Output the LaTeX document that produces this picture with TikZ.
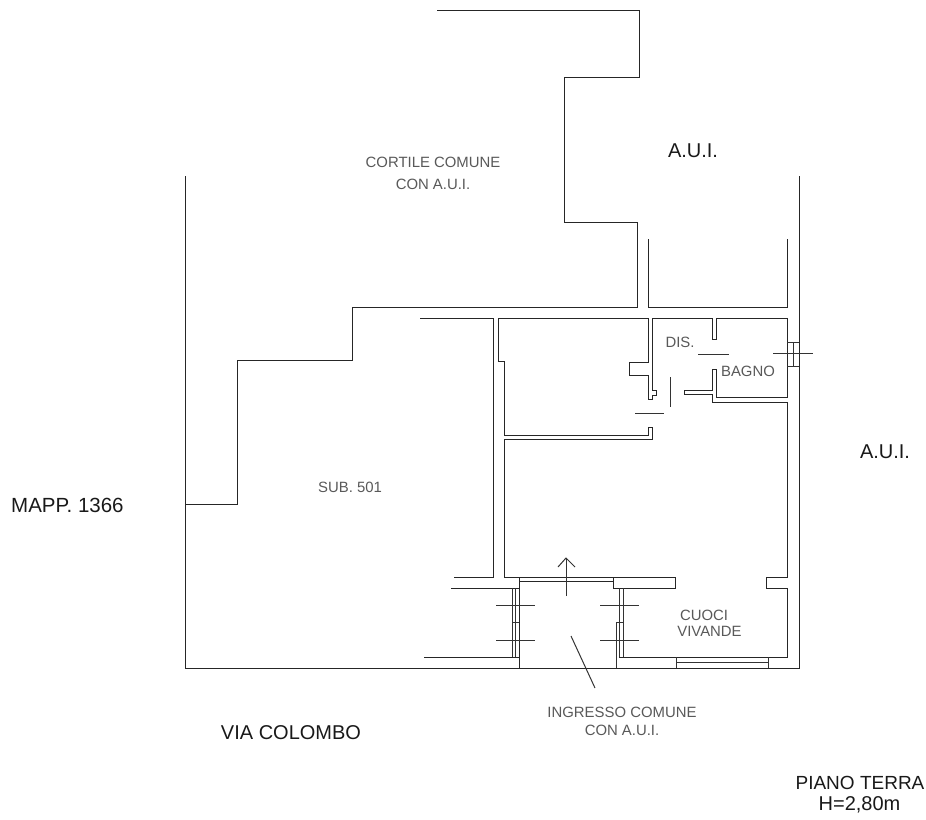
\documentclass[tikz,border=0pt]{standalone}
\usepackage{fontspec}
\setmainfont{Liberation Sans}
\tikzset{
  wall/.style={draw=black!85,line width=1pt,line join=miter},
  thin wall/.style={draw=black!80,line width=1pt},
  big/.style={inner sep=0pt,text=black!90,font=\fontsize{20}{20}\selectfont,align=center},
  small/.style={inner sep=0pt,text=black!65,font=\fontsize{14.9}{14.9}\selectfont,align=center}
}
\begin{document}
\begin{tikzpicture}[x=1pt,y=-1pt]
\useasboundingbox (0,0) rectangle (926,819);
% outer boundaries
\draw[wall] (437,10) -- (639,10) -- (639,77) -- (564,77) -- (564,222) -- (637,222) -- (637,307) -- (352,307) -- (352,360) -- (237,360) -- (237,504) -- (185,504);
\draw[wall] (185,176) -- (185,668) -- (799,668) -- (799,176);
\draw[wall] (648,239) -- (648,307) -- (787,307) -- (787,239);
% sub 501 wall
\draw[wall] (420,318) -- (493,318) -- (493,577) -- (454,577);
\draw[wall] (451,588) -- (519,588);
\draw[wall] (424,657) -- (519,657);
% central room
\draw[wall] (498,318) -- (648,318) -- (648,362) -- (629,362) -- (629,375) -- (648,375) -- (648,399) -- (652,399) -- (652,395) -- (656,395) -- (656,390) -- (652,390) -- (652,318);
\draw[wall] (498,318) -- (498,361) -- (504,361) -- (504,435) -- (648,435) -- (648,427) -- (652,427) -- (652,439) -- (504,439) -- (504,577) -- (675,577) -- (675,588) -- (613,588) -- (613,577);
% bathroom
\draw[wall] (652,318) -- (712,318) -- (712,339) -- (716,339) -- (716,318) -- (787,318) -- (787,397) -- (716,397) -- (716,369) -- (712,369) -- (712,390) -- (684,390) -- (684,394) -- (712,394) -- (712,402) -- (787,402) -- (787,577) -- (766,577) -- (766,588) -- (787,588) -- (787,657) -- (619,657);
% entrance
\draw[wall] (519,577) -- (519,668);
\draw[wall] (519,581) -- (613,581);
\draw[thin wall] (512,588) -- (512,657);
\draw[thin wall] (515,588) -- (515,657);
\draw[thin wall] (512,622) -- (519,622);
\draw[thin wall] (619,588) -- (619,657);
\draw[thin wall] (623,588) -- (623,657);
\draw[thin wall] (616,668) -- (616,622) -- (623,622);
% crossing ticks
\draw[thin wall] (496,605) -- (535,605);
\draw[thin wall] (496,640) -- (535,640);
\draw[thin wall] (600,605) -- (639,605);
\draw[thin wall] (600,640) -- (639,640);
% bottom window
\draw[thin wall] (676,657) -- (676,668);
\draw[thin wall] (768,657) -- (768,668);
\draw[thin wall] (676,662) -- (768,662);
% bath window
\draw[thin wall] (787,342) -- (799,342);
\draw[thin wall] (787,366) -- (799,366);
\draw[thin wall] (793,342) -- (793,366);
\draw[thin wall] (773,353) -- (813,353);
% door leaves
\draw[thin wall] (698,354) -- (729,354);
\draw[thin wall] (670,377) -- (670,407);
\draw[thin wall] (635,413) -- (664,413);
% arrow and leader
\draw[thin wall] (566,596) -- (566,558);
\draw[thin wall] (558,567) -- (566,558) -- (575,567);
\draw[thin wall] (571,636) -- (595,688);
% labels
\node[small] (cortile) at (433,162) {CORTILE COMUNE};
\node[small] (cortile2) at (433,184) {CON A.U.I.};
\node[big] (aui1) at (693,151) {A.U.I.};
\node[big] (aui2) at (885,452) {A.U.I.};
\node[big,anchor=west,font=\fontsize{20.5}{20.5}\selectfont] (mapp) at (11,505) {MAPP. 1366};
\node[small] (sub) at (350,487) {SUB. 501};
\node[small] (dis) at (680,342) {DIS.};
\node[small] (bagno) at (748,371) {BAGNO};
\node[small] (cuoci) at (704,615) {CUOCI};
\node[small] (vivande) at (709.5,631) {VIVANDE};
\node[small] (ingresso) at (622,712) {INGRESSO COMUNE};
\node[small] (ingresso2) at (622,730) {CON A.U.I.};
\node[big] (via) at (291,733) {VIA COLOMBO};
\node[big,font=\fontsize{19}{19}\selectfont] (piano) at (860,783) {PIANO TERRA};
\node[big] (quota) at (859.5,805) {H=2,80m};
\end{tikzpicture}
\end{document}
